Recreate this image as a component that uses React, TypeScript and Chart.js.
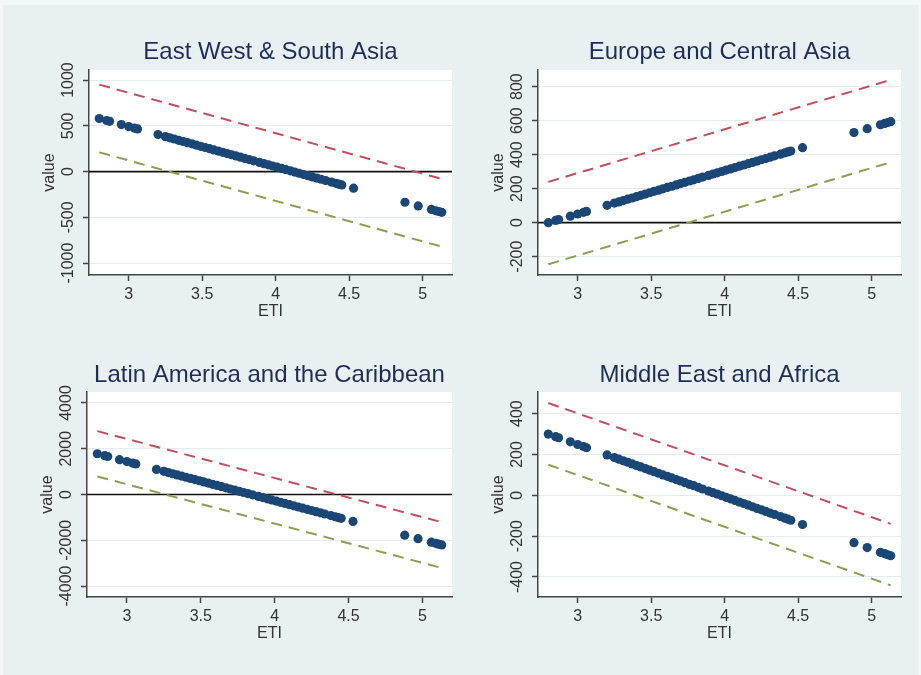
import React, { useEffect, useRef } from 'react';
import { Chart, registerables } from 'chart.js';

Chart.register(...registerables);

// ---------- data ----------
const ETI = [
  2.80, 2.85, 2.87, 2.95, 3.00, 3.04, 3.06, 3.20,
  3.25, 3.28, 3.31, 3.34, 3.37, 3.40, 3.43, 3.46, 3.49, 3.52, 3.55, 3.58, 3.61, 3.64, 3.67, 3.70,
  3.73, 3.76, 3.79, 3.82, 3.85, 3.89, 3.92, 3.95, 3.98, 4.01, 4.04, 4.07, 4.10, 4.13, 4.16, 4.19,
  4.22, 4.25, 4.28, 4.31, 4.34, 4.38, 4.41, 4.43, 4.45,
  4.53, 4.88, 4.97, 5.06, 5.09, 5.11, 5.13,
];

const eastWestSouthAsiaValues = [
  580, 558, 549, 514, 492, 474, 466, 404,
  382, 369, 356, 342, 329, 316, 303, 290, 276, 263, 250, 237, 224, 210, 197, 184,
  171, 158, 144, 131, 118, 100, 87, 74, 61, 48, 34, 21, 8, -5, -18, -32,
  -45, -58, -71, -84, -98, -115, -128, -137, -146,
  -181, -335, -375, -414, -428, -436, -445,
];

const europeCentralAsiaValues = [
  0, 13, 18, 38, 51, 61, 66, 102,
  115, 122, 130, 138, 145, 153, 161, 168, 176, 184, 191, 199, 207, 214, 222, 230,
  237, 245, 252, 260, 268, 278, 286, 293, 301, 309, 316, 324, 332, 339, 347, 354,
  362, 370, 377, 385, 393, 403, 411, 416, 421,
  441, 530, 553, 576, 584, 589, 594,
];

const latinAmericaValues = [
  1780, 1695, 1660, 1524, 1438, 1370, 1335, 1096,
  1011, 959, 908, 857, 805, 754, 703, 651, 600, 549, 498, 446, 395, 344, 292, 241,
  190, 138, 87, 36, -16, -84, -135, -187, -238, -289, -340, -392, -443, -494, -546, -597,
  -648, -700, -751, -802, -853, -922, -973, -1007, -1042,
  -1178, -1777, -1931, -2085, -2136, -2170, -2204,
];

const middleEastAfricaValues = [
  300, 287, 282, 262, 249, 239, 233, 198,
  185, 177, 169, 162, 154, 146, 139, 131, 123, 116, 108, 100, 93, 85, 77, 70,
  62, 54, 47, 39, 31, 21, 13, 6, -2, -10, -17, -25, -33, -40, -48, -56,
  -64, -71, -79, -87, -94, -104, -112, -117, -122,
  -143, -232, -256, -279, -286, -291, -296,
];

// dashed band end points (ETI at both ends)
const BAND_ETI = [2.80, 5.13];
const eastWestSouthAsiaUpper = [950, -80];
const eastWestSouthAsiaLower = [210, -820];
const europeCentralAsiaUpper = [240, 840];
const europeCentralAsiaLower = [-245, 355];
const latinAmericaUpper = [2770, -1210];
const latinAmericaLower = [790, -3210];
const middleEastAfricaUpper = [452, -140];
const middleEastAfricaLower = [150, -441];

const X_RANGE = [2.73, 5.2];
const xTicks = [3, 3.5, 4, 4.5, 5];
const xTickLabels = ['3', '3.5', '4', '4.5', '5'];

const eastWestSouthAsiaYRange = [-1130, 1110];
const eastWestSouthAsiaYTicks = [-1000, -500, 0, 500, 1000];
const eastWestSouthAsiaYLabels = ['-1000', '-500', '0', '500', '1000'];

const europeCentralAsiaYRange = [-308, 898];
const europeCentralAsiaYTicks = [-200, 0, 200, 400, 600, 800];
const europeCentralAsiaYLabels = ['-200', '0', '200', '400', '600', '800'];

const latinAmericaYRange = [-4480, 4480];
const latinAmericaYTicks = [-4000, -2000, 0, 2000, 4000];
const latinAmericaYLabels = ['-4000', '-2000', '0', '2000', '4000'];

const middleEastAfricaYRange = [-498, 506];
const middleEastAfricaYTicks = [-400, -200, 0, 200, 400];
const middleEastAfricaYLabels = ['-400', '-200', '0', '200', '400'];

// ---------- styles ----------
const FONT = 'Arial, "Liberation Sans", Helvetica, sans-serif';
const NAVY = '#1a4775';
const RED = '#c24f5c';
const GREEN = '#8c9f50';
const TITLE_COLOR = '#1e2d5a';
const TEXT = '#333333';
const AXIS = '#454545';
const GRID = '#e4ecef';
const ZERO = '#111111';

type Geom = { left: number; top: number; w: number; h: number; l: number; r: number; t: number; b: number; titleCenter: number };

const panels = [
  {
    title: 'East West & South Asia', values: eastWestSouthAsiaValues, upper: eastWestSouthAsiaUpper, lower: eastWestSouthAsiaLower,
    yRange: eastWestSouthAsiaYRange, yTicks: eastWestSouthAsiaYTicks, yLabels: eastWestSouthAsiaYLabels, zero: true,
    geom: { left: 0, top: 0, w: 460, h: 337, l: 89, r: 452, t: 70, b: 275, titleCenter: 52.5 } as Geom,
  },
  {
    title: 'Europe and Central Asia', values: europeCentralAsiaValues, upper: europeCentralAsiaUpper, lower: europeCentralAsiaLower,
    yRange: europeCentralAsiaYRange, yTicks: europeCentralAsiaYTicks, yLabels: europeCentralAsiaYLabels, zero: true,
    geom: { left: 460, top: 0, w: 461, h: 337, l: 78, r: 441, t: 70, b: 275, titleCenter: 52.5 } as Geom,
  },
  {
    title: 'Latin America and the Caribbean', values: latinAmericaValues, upper: latinAmericaUpper, lower: latinAmericaLower,
    yRange: latinAmericaYRange, yTicks: latinAmericaYTicks, yLabels: latinAmericaYLabels, zero: true,
    geom: { left: 0, top: 337, w: 460, h: 338, l: 87, r: 452, t: 55, b: 260, titleCenter: 38.5 } as Geom,
  },
  {
    title: 'Middle East and Africa', values: middleEastAfricaValues, upper: middleEastAfricaUpper, lower: middleEastAfricaLower,
    yRange: middleEastAfricaYRange, yTicks: middleEastAfricaYTicks, yLabels: middleEastAfricaYLabels, zero: false,
    geom: { left: 460, top: 337, w: 461, h: 338, l: 78, r: 441, t: 55, b: 260, titleCenter: 38.5 } as Geom,
  },
];

function Panel({ p }: { p: (typeof panels)[number] }) {
  const ref = useRef<HTMLCanvasElement>(null);
  useEffect(() => {
    const g = p.geom;
    const titleLH = 24 * 1.2;
    const titleTop = g.titleCenter - titleLH / 2;
    const labelLH = 16 * 1.2;

    const bgPlugin = {
      id: 'plotBg',
      beforeDraw(chart: any) {
        const { ctx, chartArea } = chart;
        ctx.save();
        ctx.fillStyle = '#ffffff';
        ctx.fillRect(chartArea.left, chartArea.top, chartArea.right - chartArea.left, chartArea.bottom - chartArea.top);
        ctx.restore();
      },
    };

    const yLabelPlugin = {
      id: 'yRotLabels',
      afterDraw(chart: any) {
        const s = chart.scales.y;
        const ctx = chart.ctx;
        ctx.save();
        ctx.fillStyle = TEXT;
        ctx.font = `16px ${FONT}`;
        ctx.textAlign = 'center';
        ctx.textBaseline = 'middle';
        p.yTicks.forEach((v, i) => {
          const y = s.getPixelForValue(v);
          ctx.save();
          ctx.translate(chart.chartArea.left - 20, y);
          ctx.rotate(-Math.PI / 2);
          ctx.fillText(p.yLabels[i], 0, 0);
          ctx.restore();
        });
        ctx.restore();
      },
    };

    const datasets: any[] = [
      {
        data: ETI.map((x, i) => ({ x, y: p.values[i] })),
        pointBackgroundColor: NAVY,
        pointBorderColor: NAVY,
        pointBorderWidth: 0,
        pointRadius: 4.6,
        pointHoverRadius: 4.6,
        showLine: false,
      },
      {
        data: BAND_ETI.map((x, i) => ({ x, y: p.upper[i] })),
        showLine: true,
        borderColor: RED,
        borderWidth: 2,
        borderDash: [11, 7],
        pointRadius: 0,
        fill: false,
      },
      {
        data: BAND_ETI.map((x, i) => ({ x, y: p.lower[i] })),
        showLine: true,
        borderColor: GREEN,
        borderWidth: 2,
        borderDash: [11, 7],
        pointRadius: 0,
        fill: false,
      },
    ];
    if (p.zero) {
      datasets.push({
        data: X_RANGE.map((x) => ({ x, y: 0 })),
        showLine: true,
        borderColor: ZERO,
        borderWidth: 1.6,
        pointRadius: 0,
        fill: false,
      });
    }

    const chart = new Chart(ref.current as HTMLCanvasElement, {
      type: 'scatter',
      data: { datasets },
      options: {
        responsive: false,
        animation: false,
        events: [],
        layout: { padding: { left: 0, top: 0, right: g.w - g.r, bottom: 0 } },
        plugins: {
          legend: { display: false },
          tooltip: { enabled: false },
          title: {
            display: true,
            text: p.title,
            fullSize: false,
            color: TITLE_COLOR,
            font: { size: 24, family: FONT, weight: 'normal' },
            padding: { top: titleTop, bottom: g.t - titleTop - titleLH },
          },
        },
        scales: {
          x: {
            type: 'linear',
            min: X_RANGE[0],
            max: X_RANGE[1],
            afterBuildTicks: (s: any) => { s.ticks = xTicks.map((v) => ({ value: v })); },
            afterFit: (s: any) => { s.height = g.h - g.b; },
            ticks: {
              callback: (_v: any, i: number) => xTickLabels[i],
              font: { size: 16, family: FONT },
              color: TEXT,
              padding: 20 - 6 - labelLH / 2,
              autoSkip: false,
              maxRotation: 0,
              minRotation: 0,
            },
            grid: { drawOnChartArea: false, drawTicks: true, tickLength: 6, tickColor: AXIS, tickWidth: 1.5 },
            border: { color: AXIS, width: 1.5 },
            title: {
              display: true,
              text: 'ETI',
              color: TEXT,
              font: { size: 16, family: FONT },
              padding: { top: 0, bottom: g.h - (g.b + 37) - labelLH / 2 },
            },
          },
          y: {
            type: 'linear',
            min: p.yRange[0],
            max: p.yRange[1],
            afterBuildTicks: (s: any) => { s.ticks = p.yTicks.map((v) => ({ value: v })); },
            afterFit: (s: any) => { s.width = g.l; },
            ticks: { display: false },
            grid: { color: GRID, lineWidth: 1, drawTicks: true, tickLength: 6, tickColor: AXIS, tickWidth: 1.5 },
            border: { color: AXIS, width: 1.5 },
            title: {
              display: true,
              text: 'value',
              color: TEXT,
              font: { size: 16, family: FONT },
              padding: { top: g.l - 39 - labelLH / 2, bottom: 0 },
            },
          },
        },
      } as any,
      plugins: [bgPlugin, yLabelPlugin],
    });
    return () => chart.destroy();
  }, []);

  const g = p.geom;
  return (
    <canvas
      ref={ref}
      width={g.w}
      height={g.h}
      style={{ position: 'absolute', left: g.left, top: g.top, width: g.w, height: g.h }}
    />
  );
}

export default function App() {
  return (
    <div style={{ position: 'fixed', left: 0, top: 0, width: 921, height: 675, background: '#f3f7f8', overflow: 'hidden' }}>
      <div style={{ position: 'absolute', left: 3, top: 5, width: 916, height: 670, background: '#e8f0f2' }} />
      {panels.map((p) => (
        <Panel key={p.title} p={p} />
      ))}
    </div>
  );
}
